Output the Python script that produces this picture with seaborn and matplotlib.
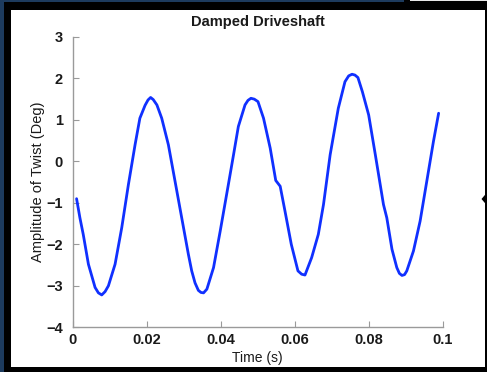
import matplotlib
matplotlib.use("Agg")
import matplotlib.pyplot as plt
from matplotlib.patches import Rectangle, Polygon
import seaborn as sns
import pandas as pd

# ---- data ----
time_s = [0.0011, 0.0020, 0.0029, 0.0043, 0.0061, 0.0070, 0.0079, 0.0088, 0.0097, 0.0115,
          0.0133, 0.0151, 0.0169, 0.0182, 0.0196, 0.0204, 0.0211, 0.0218, 0.0228, 0.0241,
          0.0259, 0.0277, 0.0295, 0.0313, 0.0322, 0.0331, 0.0340, 0.0347, 0.0354, 0.0363,
          0.0381, 0.0399, 0.0421, 0.0435, 0.0448, 0.0466, 0.0474, 0.0482, 0.0491, 0.0501,
          0.0516, 0.0534, 0.0549, 0.0561, 0.0574, 0.0591, 0.0609, 0.0619, 0.0628, 0.0646,
          0.0664, 0.0678, 0.0696, 0.0718, 0.0736, 0.0746, 0.0755, 0.0763, 0.0771, 0.0783,
          0.0800, 0.0818, 0.0840, 0.0849, 0.0863, 0.0876, 0.0883, 0.0890, 0.0897, 0.0903,
          0.0921, 0.0939, 0.0957, 0.0975, 0.0989]
amplitude = [-0.90, -1.36, -1.76, -2.48, -3.04, -3.17, -3.22, -3.14, -3.00, -2.48,
             -1.60, -0.56, 0.40, 1.04, 1.35, 1.48, 1.54, 1.49, 1.36, 1.04,
             0.40, -0.48, -1.36, -2.24, -2.64, -2.93, -3.11, -3.16, -3.17, -3.08,
             -2.56, -1.68, -0.56, 0.16, 0.84, 1.36, 1.47, 1.52, 1.50, 1.44,
             1.04, 0.32, -0.46, -0.60, -1.20, -2.00, -2.64, -2.72, -2.74, -2.32,
             -1.76, -1.04, 0.16, 1.28, 1.92, 2.06, 2.10, 2.08, 2.02, 1.68,
             1.12, 0.16, -1.04, -1.36, -2.12, -2.56, -2.70, -2.75, -2.73, -2.64,
             -2.16, -1.44, -0.48, 0.48, 1.16]
xtick_values = [0, 0.02, 0.04, 0.06, 0.08, 0.1]
xtick_labels = ["0", "0.02", "0.04", "0.06", "0.08", "0.1"]
ytick_values = [-4, -3, -2, -1, 0, 1, 2, 3]
ytick_labels = ["\u22124", "\u22123", "\u22122", "\u22121", "0", "1", "2", "3"]
title = "Damped Driveshaft"
xlabel = "Time (s)"
ylabel = "Amplitude of Twist (Deg)"

df = pd.DataFrame({"t": time_s, "amp": amplitude})

sns.set_theme(style="white")
plt.rcParams["font.family"] = ["Liberation Sans", "DejaVu Sans"]

W, H = 487, 372
fig = plt.figure(figsize=(W / 100, H / 100), dpi=100)
fig.patch.set_facecolor("black")

def px(x0, y0, x1, y1):
    # pixel box (top-left origin) to figure fraction rectangle args
    return (x0 / W, 1 - y1 / H), (x1 - x0) / W, (y1 - y0) / H

# frame decorations
xy, w, h = px(11, 10, 485, 367)
fig.add_artist(Rectangle(xy, w, h, transform=fig.transFigure, facecolor="white",
                         edgecolor="none", zorder=-10))
xy, w, h = px(0, 0, 3.5, 372)
fig.add_artist(Rectangle(xy, w, h, transform=fig.transFigure, facecolor="#1d3b5e",
                         edgecolor="none", zorder=-9))
xy, w, h = px(0, 0, 404, 1.5)
fig.add_artist(Rectangle(xy, w, h, transform=fig.transFigure, facecolor="#1d3b5e",
                         edgecolor="none", zorder=-9))
xy, w, h = px(410, 0, 487, 1.2)
fig.add_artist(Rectangle(xy, w, h, transform=fig.transFigure, facecolor="#e8e8e8",
                         edgecolor="none", zorder=-9))
arrow = [(481.5 / W, 1 - 199 / H), (487 / W, 1 - 192.5 / H), (487 / W, 1 - 205.5 / H)]
fig.add_artist(Polygon(arrow, closed=True, transform=fig.transFigure,
                       facecolor="black", edgecolor="none", zorder=-8))

ax = fig.add_axes([72.5 / W, 1 - 327.3 / H, 370.2 / W, 290.4 / H])
ax.set_facecolor("white")

sns.lineplot(data=df, x="t", y="amp", ax=ax, color="#1030ff", linewidth=2.0,
             estimator=None, sort=False)

ax.set_xlim(0, 0.1)
ax.set_ylim(-4, 3)
ax.set_xticks(xtick_values)
ax.set_xticklabels(xtick_labels, fontweight="bold", fontsize=10.5, color="#1a1a1a")
ax.set_yticks(ytick_values)
ax.set_yticklabels(ytick_labels, fontweight="bold", fontsize=10.5, color="#1a1a1a")

for side in ["top", "right"]:
    ax.spines[side].set_visible(False)
for side in ["left", "bottom"]:
    ax.spines[side].set_color("#9a9a9a")
    ax.spines[side].set_linewidth(1.0)

ax.tick_params(axis="both", direction="in", length=4, width=0.8, color="#9a9a9a")
ax.tick_params(axis="x", pad=4, bottom=True)
ax.tick_params(axis="y", pad=7, left=True)

ax.set_title(title, fontweight="bold", fontsize=10.5, color="#1a1a1a", pad=8)
ax.set_xlabel(xlabel, fontsize=10, color="#1a1a1a", labelpad=3)
ax.set_ylabel(ylabel, fontsize=10.5, color="#1a1a1a", labelpad=1)

fig.savefig("out.png", dpi=100, facecolor=fig.get_facecolor())
